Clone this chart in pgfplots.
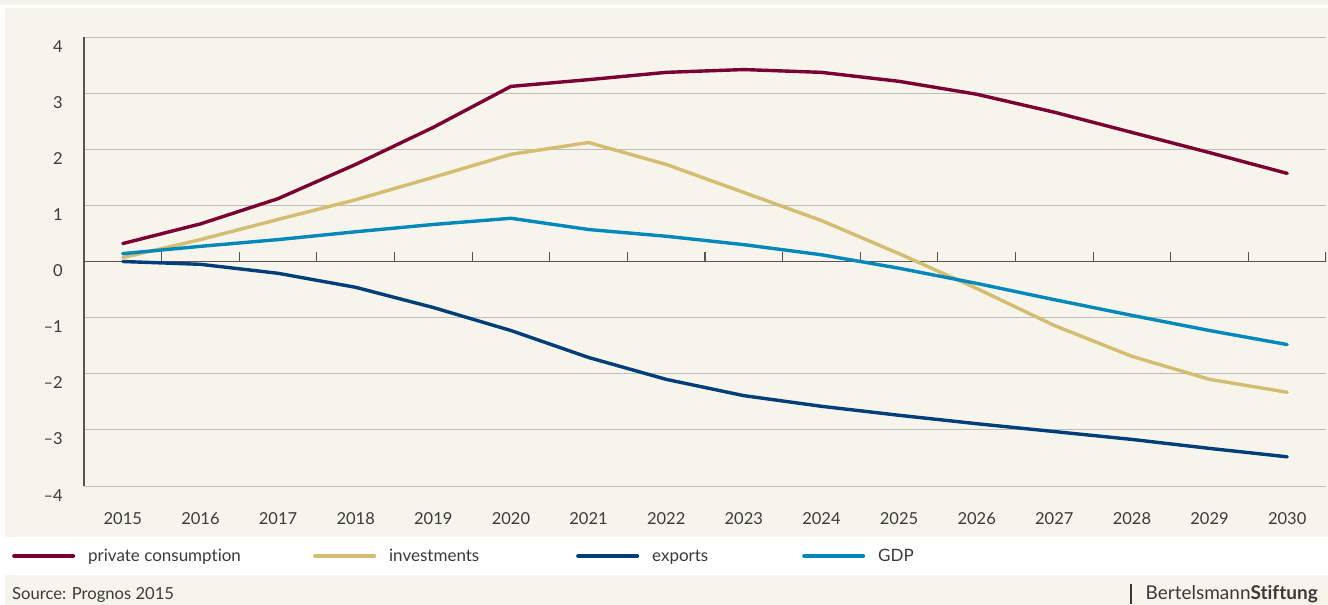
\documentclass[border=0pt]{standalone}
\usepackage{pgfplots}
\pgfplotsset{compat=1.18}
\usepackage{fontspec}
\setmainfont{Lato}[Ligatures={NoCommon,NoRare,NoDiscretionary}]
\definecolor{bg}{HTML}{F7F4EC}
\definecolor{gridc}{HTML}{BDBDBD}
\definecolor{axc}{HTML}{555555}
\definecolor{txt}{HTML}{3A3A3A}
\definecolor{cons}{RGB}{122,0,52}
\definecolor{inv}{RGB}{212,188,112}
\definecolor{expo}{RGB}{0,62,122}
\definecolor{gdp}{RGB}{0,136,186}

% idx 0 = 2015 ... 15 = 2030
\pgfplotstableread{
idx cons inv expo gdp
0 0.32 0.07 0.00 0.14
1 0.67 0.39 -0.05 0.27
2 1.12 0.75 -0.21 0.39
3 1.73 1.10 -0.46 0.53
4 2.39 1.50 -0.82 0.66
5 3.12 1.91 -1.23 0.77
6 3.24 2.12 -1.71 0.57
7 3.37 1.73 -2.10 0.45
8 3.42 1.23 -2.39 0.30
9 3.37 0.73 -2.58 0.12
10 3.21 0.14 -2.74 -0.12
11 2.98 -0.48 -2.89 -0.39
12 2.66 -1.14 -3.03 -0.68
13 2.30 -1.69 -3.17 -0.96
14 1.94 -2.10 -3.33 -1.23
15 1.57 -2.33 -3.48 -1.48
}\datatable

\begin{document}
\begin{tikzpicture}
\fill[white] (0pt,0pt) rectangle (1328pt,-605pt);
\fill[bg] (0pt,0pt) rectangle (1328pt,-5pt);
\fill[bg] (5pt,-8pt) rectangle (1328pt,-537pt);
\fill[bg] (5pt,-575pt) rectangle (1328pt,-605pt);
\useasboundingbox (0pt,0pt) rectangle (1328pt,-605pt);
\begin{axis}[
  at={(84pt,-486pt)}, anchor=south west,
  scale only axis, width=1242pt, height=449pt,
  xmin=-0.5, xmax=15.5, ymin=-4, ymax=4,
  xtick={0,...,15},
  xticklabels={2015,2016,2017,2018,2019,2020,2021,2022,2023,2024,2025,2026,2027,2028,2029,2030},
  ytick={-4,...,4},
  yticklabels={–4,–3,–2,–1,0,1,2,3,4},
  major tick length=0,
  axis x line*=bottom, axis y line*=left,
  axis line style={-},
  x axis line style={draw=gridc, line width=1pt},
  y axis line style={draw=axc, line width=1.2pt},
  ymajorgrids, grid style={draw=gridc, line width=1pt},
  tick label style={font=\fontsize{16.5}{18}\selectfont, text=txt, inner sep=0pt},
  xticklabel style={anchor=base, yshift=-38pt},
  yticklabel style={anchor=base east, xshift=-21pt, yshift=-15pt},
  legend columns=4,
  legend cell align=left,
  legend style={at={(axis description cs:-0.058,-0.156)}, anchor=west,
    draw=none, fill=none, inner sep=0pt,
    font=\fontsize{17}{19}\selectfont, text=txt,
    nodes={inner sep=0pt},
    /tikz/every odd column/.append style={column sep=13pt}},
  legend image code/.code={\draw[#1, line width=4pt, line cap=round] (2pt,0pt) -- (61pt,0pt);},
  every axis plot/.append style={line width=3.4pt, line join=round, line cap=round},
]
\draw[axc, line width=1.2pt] (axis cs:-0.5,0) -- (axis cs:15.5,0);
\pgfplotsinvokeforeach{0,...,15}{
  \draw[axc, line width=1.2pt] (axis cs:#1.5,0) -- ++(0pt,10pt);
}
\addplot[cons] table[x=idx, y=cons] {\datatable};
\addlegendentry{\makebox[225pt][l]{private consumption}}
\addplot[inv] table[x=idx, y=inv] {\datatable};
\addlegendentry{\makebox[187pt][l]{investments}}
\addplot[expo] table[x=idx, y=expo] {\datatable};
\addlegendentry{\makebox[150pt][l]{exports}}
\addplot[gdp] table[x=idx, y=gdp] {\datatable};
\addlegendentry{GDP}
\end{axis}
\node[anchor=base west, inner sep=0, text=txt, font=\fontsize{16.6}{19}\selectfont] at (12pt,-599pt) {Source: Prognos 2015};
\draw[txt, line width=1.4pt] (1131pt,-584pt) -- (1131pt,-604pt);
\node[anchor=base east, inner sep=0, text=txt, font=\fontsize{19}{21}\selectfont] at (1318pt,-599pt) {Bertelsmann\textbf{Stiftung}};
\end{tikzpicture}
\end{document}
